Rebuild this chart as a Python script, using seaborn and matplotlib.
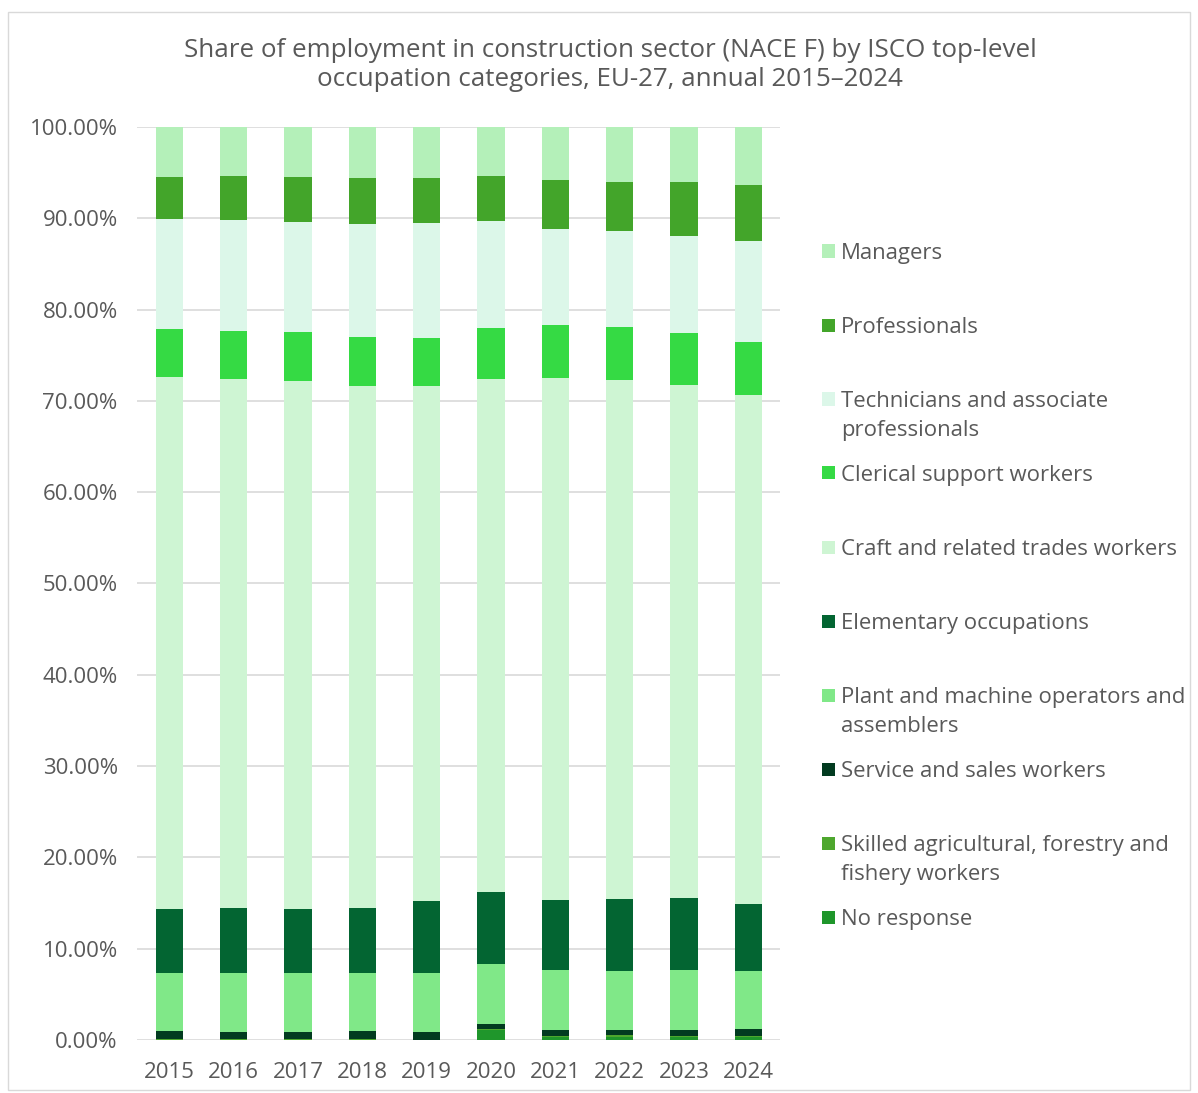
import matplotlib
matplotlib.use("Agg")
import matplotlib.pyplot as plt
from matplotlib.patches import Rectangle
import seaborn as sns
import numpy as np
import pandas as pd

years = ["2015", "2016", "2017", "2018", "2019", "2020", "2021", "2022", "2023", "2024"]

# stacking order, bottom to top
no_response   = [0.00, 0.00, 0.00, 0.00, 0.00, 1.10, 0.30, 0.35, 0.30, 0.30]
skilled_agri  = [0.10, 0.10, 0.10, 0.10, 0.05, 0.10, 0.17, 0.20, 0.14, 0.17]
service_sales = [0.89, 0.81, 0.81, 0.89, 0.86, 0.55, 0.66, 0.58, 0.69, 0.77]
plant_machine = [6.38, 6.46, 6.46, 6.31, 6.46, 6.61, 6.50, 6.47, 6.57, 6.36]
elementary    = [6.98, 7.09, 6.94, 7.19, 7.82, 7.81, 7.74, 7.84, 7.82, 7.33]
craft         = [58.23, 57.94, 57.90, 57.10, 56.48, 56.23, 57.10, 56.81, 56.22, 55.68]
clerical      = [5.26, 5.29, 5.30, 5.44, 5.25, 5.55, 5.81, 5.88, 5.73, 5.84]
technicians   = [12.08, 12.09, 12.09, 12.31, 12.53, 11.75, 10.58, 10.44, 10.63, 11.03]
professionals = [4.64, 4.89, 4.96, 5.11, 5.00, 4.97, 5.33, 5.41, 5.88, 6.20]
managers      = [5.44, 5.33, 5.44, 5.55, 5.55, 5.33, 5.81, 6.02, 6.02, 6.32]

series_names = [
    "No response",
    "Skilled agricultural, forestry and\nfishery workers",
    "Service and sales workers",
    "Plant and machine operators and\nassemblers",
    "Elementary occupations",
    "Craft and related trades workers",
    "Clerical support workers",
    "Technicians and associate\nprofessionals",
    "Professionals",
    "Managers",
]
series_values = [no_response, skilled_agri, service_sales, plant_machine, elementary,
                 craft, clerical, technicians, professionals, managers]
series_colors = ["#1f962b", "#4ea72e", "#023b20", "#80e888", "#036532",
                 "#cef5d3", "#35da44", "#dcf7e9", "#43a52a", "#b4f0b9"]

sns.set_theme(style="white")
plt.rcParams["font.family"] = ["Open Sans", "DejaVu Sans"]
text_color = "#595959"

fig = plt.figure(figsize=(11.98, 10.93), dpi=100)
ax = fig.add_axes([0.1145, 0.0485, 0.537, 0.8353])

vals = np.array(series_values)
cum = np.cumsum(vals, axis=0)

# draw from top cumulative downward so each layer covers the one above
for i in range(len(series_names) - 1, -1, -1):
    df = pd.DataFrame({"year": years, "value": cum[i]})
    sns.barplot(data=df, x="year", y="value", color=series_colors[i],
                saturation=1, width=0.42, ax=ax, errorbar=None, linewidth=0)

ax.set_ylim(0, 100)
ax.set_xlim(-0.5, len(years) - 0.5)
ax.set_yticks(np.arange(0, 101, 10))
ax.set_yticklabels([f"{v:.2f}%" for v in np.arange(0, 101, 10)])
ax.set_xlabel("")
ax.set_ylabel("")
ax.grid(axis="y", color="#d9d9d9", linewidth=1.2)
ax.set_axisbelow(True)
for s in ax.spines.values():
    s.set_visible(False)
ax.tick_params(axis="both", length=0, labelsize=16, colors=text_color)
ax.tick_params(axis="y", pad=14)
ax.tick_params(axis="x", pad=16)

fig.text(0.5095, 0.9405, "Share of employment in construction sector (NACE F) by ISCO top-level\noccupation categories, EU-27, annual 2015\u20132024",
         ha="center", va="center", fontsize=18.7, color=text_color, linespacing=1.2)

# legend (top to bottom = reverse stacking order)
H = 1093.0
W = 1198.0
first_line_y = [251, 325, 399, 473, 547, 621, 695, 769, 843, 917]
for k, idx in enumerate(range(len(series_names) - 1, -1, -1)):
    y = first_line_y[k]
    fig.patches.append(Rectangle((822 / W, 1 - (y + 6.5) / H), 13 / W, 13 / H,
                                 transform=fig.transFigure, facecolor=series_colors[idx],
                                 edgecolor="none"))
    fig.text(841 / W, 1 - (y - 8) / H, series_names[idx], ha="left", va="top",
             fontsize=15.9, color=text_color, linespacing=1.5)

fig.patches.append(Rectangle((8 / W, 3 / H), 1182 / W, 1078 / H, transform=fig.transFigure,
                             fill=False, edgecolor="#d9d9d9", linewidth=1))

fig.savefig("out.png", dpi=100, facecolor="white")
